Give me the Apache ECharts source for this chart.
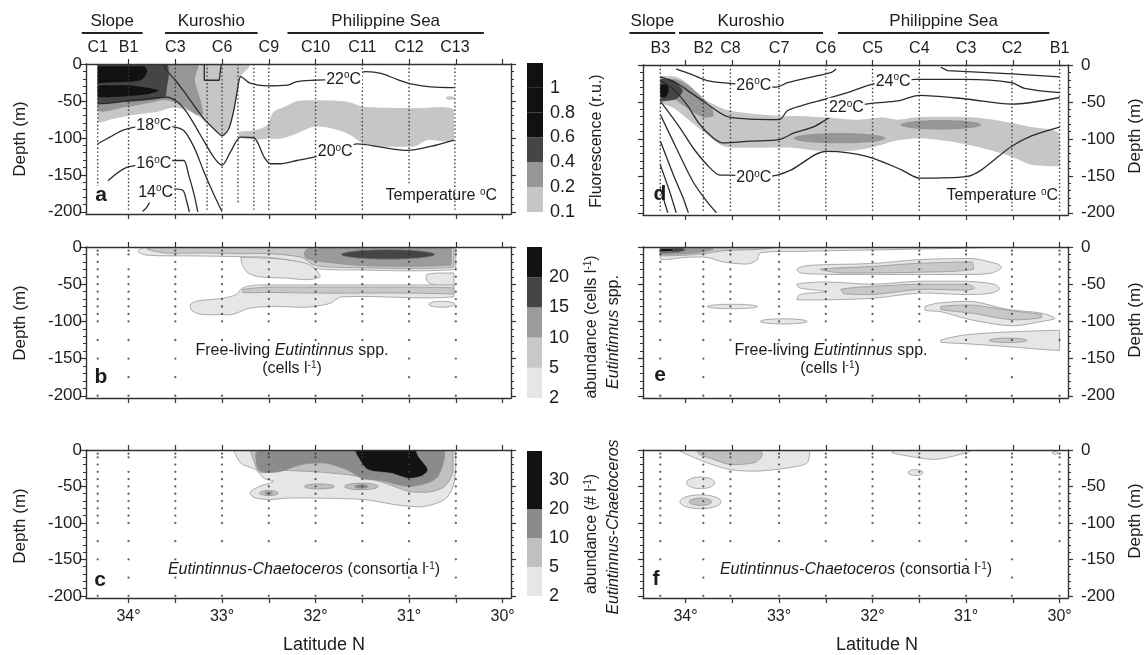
<!DOCTYPE html>
<html><head><meta charset="utf-8">
<script src="https://cdn.jsdelivr.net/npm/echarts@6/dist/echarts.min.js"></script>
<style>html,body{margin:0;padding:0;background:#fff}#c{width:1144px;height:655px}</style>
</head><body><div id="c"></div>
<script>
// ---------------- DATA ----------------
const latTicks = [30, 30.5, 31, 31.5, 32, 32.5, 33, 33.5, 34];
const latLabels = [30, 31, 32, 33, 34];
const depthTicks = [-200, -150, -100, -50, 0];
const depthMinor = [-190,-180,-170,-160,-140,-130,-120,-110,-90,-80,-70,-60,-40,-30,-20,-10];

const stationsLeftNames = ['C1','B1','C3','C6','C9','C10','C11','C12','C13'];
const stationsLeftLat = [34.33, 34.0, 33.5, 33.0, 32.5, 32.0, 31.5, 31.0, 30.51];
const stationsRightNames = ['B3','B2','C8','C7','C6','C5','C4','C3','C2','B1'];
const stationsRightLat = [34.27, 33.81, 33.52, 33.0, 32.5, 32.0, 31.5, 31.0, 30.51, 30.0];

const regionsLeft = [['Slope',34.50,33.85],['Kuroshio',33.61,32.62],['Philippine Sea',32.30,30.20]];
const regionsRight = [['Slope',34.60,34.11],['Kuroshio',34.07,32.53],['Philippine Sea',32.37,30.11]];

const fluoLevels = ['0.1','0.2','0.4','0.6','0.8','1'];
const fluoColors = ['#c6c6c6','#969696','#454545','#111111','#111111','#111111'];
const eutLevels = ['2','5','10','15','20'];
const eutColors = ['#e6e6e6','#c8c8c8','#9b9b9b','#454545','#121212'];
const consLevels = ['2','5','10','20','30'];
const consColors = ['#e6e6e6','#c0c0c0','#8b8b8b','#121212','#121212'];

// CTD profiles (lat, deepest depth)
const ctdA = [[34.33,-165],[34.0,-200],[33.5,-200],[33.16,-200],[33.0,-200],[32.83,-190],[32.66,-200],[32.5,-200],[32.0,-200],[31.5,-200],[31.0,-162],[30.51,-200]];
const ctdD = [[34.27,-200],[33.81,-200],[33.52,-200],[33.0,-200],[32.5,-200],[32.0,-200],[31.5,-200],[31.0,-200],[30.51,-200],[30.0,-200]];

// bottle sampling depths (m)
const bottlesLeft = [
 [34.33,[5,10,20,30,40,50,60,70,80,90,100,125,150,200]],
 [34.0,[5,10,30,40,50,60,70,80,90,100,125,150,175,200]],
 [33.5,[5,10,20,30,40,50,60,70,80,90,100,125,150,175,200]],
 [33.0,[5,10,20,30,40,50,60,70,80,90,100,125,200]],
 [32.5,[5,10,20,30,40,50,60,70,80,90,100,125,200]],
 [32.0,[5,10,20,30,40,50,60,70,80,90,100,125,200]],
 [31.5,[5,10,20,30,40,50,60,70,80,90,100,125,200]],
 [31.0,[5,10,20,30,40,50,60,70,80,90,100,125,150,175,200]],
 [30.5,[5,10,20,30,40,50,60,70,80,90,100,125,150,175,200]]
];
const bottlesRight = [
 [34.27,[5,10,20,30,40,50,60,70,80,90,100,125,150,200]],
 [33.81,[5,10,20,30,40,50,60,70,80,90,100,125,150,175,200]],
 [33.52,[5,10,20,30,40,50,60,70,80,90,100,125,200]],
 [33.0,[5,10,20,30,40,50,60,70,80,90,100,125,200]],
 [32.5,[5,10,20,30,40,50,60,70,80,90,100,125,200]],
 [32.0,[5,10,20,30,40,50,60,70,80,90,100,125,200]],
 [31.5,[5,10,20,30,40,50,60,70,80,90,100,125,200]],
 [31.0,[5,10,20,30,40,50,60,70,80,90,100,125,150,200]],
 [30.51,[5,10,20,30,40,50,60,70,80,90,100,125,150,175,200]],
 [30.0,[5,10,20,30,40,50,60,70,80,90,100,125,200]]
];

// contour regions: level index, polygon [lat, depth] or ellipse [lat, depth, halfLat, halfDepth]
const fluoA = [
 {level:0, pts:[[34.33,0],[32.70,0],[32.71,-4],[32.80,-17],[32.84,-44],[32.91,-81],[33.0,-97],[33.05,-92],[33.16,-81],[33.27,-69],[33.375,-63],[33.52,-59],[33.70,-65],[33.95,-69],[34.16,-74],[34.33,-77]]},
 {level:0, pts:[[32.82,-92],[32.66,-90],[32.52,-83],[32.45,-65],[32.30,-56],[32.2,-50],[32.02,-49],[31.66,-51],[31.48,-58],[30.95,-60],[30.52,-62],[30.52,-103],[30.8,-103],[30.95,-112],[31.3,-112],[31.48,-108],[31.66,-94],[31.84,-87],[32.02,-85],[32.2,-94],[32.375,-101],[32.52,-101],[32.66,-102],[32.82,-99]]},
 {level:0, ell:[30.56,-46,0.05,2.5]},
 {level:1, pts:[[34.33,0],[33.27,0],[33.29,-22],[33.23,-49],[33.20,-67],[33.27,-69],[33.375,-60],[33.52,-51],[33.625,-49],[33.80,-53],[34.02,-58],[34.33,-62]]},
 {level:2, pts:[[34.33,0],[33.59,0],[33.57,-15],[33.59,-31],[33.61,-44],[33.80,-49],[34.02,-51],[34.33,-53.5]]},
 {level:3, pts:[[34.33,-3],[33.84,-3],[33.80,-10],[33.875,-22],[34.2,-25],[34.33,-26]]},
 {level:3, pts:[[34.33,-29],[34.02,-28.6],[33.80,-32],[33.68,-36],[33.80,-41],[34.02,-43.5],[34.33,-45]]}
];
const fluoD = [
 {level:0, pts:[[34.27,-14.5],[34.10,-16],[33.95,-28],[33.85,-42],[33.70,-53],[33.52,-62],[33.0,-69],[32.77,-69],[32.5,-71],[32.15,-74],[31.90,-71],[31.73,-74],[31.5,-70.5],[31.0,-70.5],[30.66,-75],[30.30,-84],[30.0,-93],[30.0,-137],[30.30,-135],[30.51,-124],[30.84,-112],[31.2,-103],[31.5,-99],[31.73,-102],[31.90,-108],[32.15,-115],[32.5,-117],[32.87,-112],[33.31,-112],[33.59,-110],[33.77,-94],[33.95,-76],[34.13,-58],[34.27,-49]]},
 {level:1, pts:[[34.27,-18],[34.06,-21],[33.88,-37],[33.72,-58],[33.70,-69],[33.81,-71],[33.99,-58],[34.17,-42],[34.27,-37]]},
 {level:1, ell:[32.355,-99,0.49,7]},
 {level:1, ell:[31.27,-81,0.43,6.5]},
 {level:2, pts:[[34.27,-19],[34.13,-21],[34.03,-35],[34.10,-46],[34.27,-49]]},
 {level:3, pts:[[34.27,-28],[34.2,-26],[34.18,-35],[34.22,-44],[34.27,-42]]}
];
const eutB = [
 {level:0, pts:[[33.90,-6],[33.82,0],[30.50,0],[30.50,-30],[31.0,-32],[31.5,-31],[32.0,-29],[32.2,-20],[32.5,-14],[32.8,-13],[33.3,-12],[33.8,-11]]},
 {level:0, pts:[[32.80,-14],[32.78,-25],[32.72,-35],[32.6,-40],[32.3,-42],[32.1,-44],[31.95,-40],[32.0,-30],[32.1,-22],[32.4,-16]]},
 {level:0, pts:[[30.82,-38],[30.7,-35],[30.52,-35],[30.52,-53],[30.7,-52],[30.8,-47]]},
 {level:0, pts:[[33.34,-78],[33.28,-73],[33.0,-69],[32.85,-64],[32.78,-55],[32.6,-51],[30.52,-51],[30.52,-67],[31.72,-67],[31.85,-76],[32.1,-81],[32.4,-80],[32.7,-82],[32.9,-91],[33.2,-91],[33.32,-86]]},
 {level:0, ell:[30.65,-77,0.14,4]},
 {level:1, pts:[[33.80,-3],[33.75,0],[30.52,0],[30.52,-27],[31.0,-29],[31.5,-28],[32.0,-25],[32.15,-14],[32.5,-9],[32.8,-9],[33.2,-8],[33.6,-8]]},
 {level:1, pts:[[32.78,-57],[32.5,-54],[32.0,-54],[31.0,-54],[30.52,-55],[30.52,-63],[31.0,-62],[32.0,-62],[32.5,-61],[32.78,-61]]},
 {level:2, pts:[[32.12,-8],[32.05,0],[30.55,0],[30.55,-24],[31.0,-26],[31.5,-25],[31.9,-20],[32.1,-15]]},
 {level:3, ell:[31.225,-10,0.5,6.5]}
];
const consC = [
 {level:0, pts:[[32.875,0],[30.51,0],[30.5,-23],[30.53,-50],[30.62,-68],[30.87,-78],[31.15,-75],[31.475,-68],[32.01,-66],[32.3,-66],[32.5,-68],[32.66,-65],[32.70,-58],[32.6,-50],[32.45,-43],[32.55,-39],[32.64,-27],[32.80,-18]]},
 {level:1, pts:[[32.70,0],[30.53,0],[30.53,-30],[30.62,-50],[30.80,-58],[31.0,-57],[31.2,-48],[31.4,-40],[31.65,-34],[32.0,-30],[32.37,-28],[32.6,-30],[32.66,-15]]},
 {level:1, ell:[31.96,-50,0.16,3.5]},
 {level:1, ell:[31.51,-50,0.18,4.5]},
 {level:1, ell:[32.50,-59,0.10,3.5]},
 {level:2, pts:[[32.64,-5],[32.58,0],[30.62,0],[30.62,-10],[30.69,-36],[30.80,-45],[31.01,-50],[31.30,-42],[31.5,-39],[31.65,-28],[31.9,-18],[32.15,-20],[32.4,-30],[32.6,-28]]},
 {level:2, ell:[31.51,-50,0.07,2.5]},
 {level:2, ell:[32.50,-59,0.04,1.5]},
 {level:4, pts:[[31.58,0],[30.94,0],[30.90,-9],[30.80,-27],[30.87,-36],[31.01,-39],[31.19,-32],[31.44,-27],[31.55,-9]]}
];
const eutE = [
 {level:0, pts:[[34.27,0],[30.70,0],[31.0,-1.5],[32.0,-4],[32.8,-6],[33.2,-8],[33.24,-18],[33.35,-23],[33.6,-20],[33.77,-14],[34.0,-14],[34.27,-16]]},
 {level:0, pts:[[32.81,-30],[32.70,-25],[31.98,-22],[31.52,-17],[30.94,-15.5],[30.66,-23],[30.62,-28],[30.73,-35],[30.94,-37],[31.62,-37],[32.34,-37],[32.77,-35]]},
 {level:0, pts:[[32.81,-50],[32.5,-47],[32.0,-50],[31.5,-46],[31.0,-46],[30.7,-50],[30.64,-56],[30.73,-62],[31.0,-64],[31.5,-62],[32.0,-69],[32.5,-71],[32.81,-71],[32.78,-64],[32.5,-60],[32.78,-55]]},
 {level:0, ell:[33.5,-80,0.27,3]},
 {level:0, ell:[32.95,-100,0.25,3.5]},
 {level:0, pts:[[31.44,-80],[31.27,-75],[30.94,-73],[30.55,-84],[30.19,-89],[30.05,-96],[30.19,-100],[30.5,-106],[30.94,-98],[31.27,-87],[31.44,-85]]},
 {level:0, pts:[[31.27,-125],[31.0,-118],[30.5,-114],[30.0,-112],[30.0,-139],[30.5,-134.5],[31.0,-130],[31.27,-128]]},
 {level:1, pts:[[34.27,0],[33.0,0],[33.2,-3],[33.6,-5],[33.8,-9],[34.0,-11],[34.27,-12]]},
 {level:1, pts:[[32.56,-30],[31.98,-26],[31.52,-22],[30.94,-20],[30.92,-30],[31.52,-34],[32.34,-35]]},
 {level:1, pts:[[32.34,-57],[32.0,-53],[31.5,-50],[31.0,-50],[30.91,-55],[31.0,-58],[31.5,-57],[32.0,-64],[32.3,-63]]},
 {level:1, pts:[[31.27,-80],[30.94,-78],[30.5,-86],[30.19,-91],[30.19,-95],[30.5,-98],[30.94,-89],[31.27,-84]]},
 {level:1, ell:[30.55,-125.5,0.2,3]},
 {level:2, pts:[[34.27,0],[33.80,0],[33.7,-3],[33.9,-8],[34.27,-10]]},
 {level:3, pts:[[34.27,-1],[34.05,-1],[34.0,-4],[34.08,-7],[34.27,-8]]},
 {level:4, pts:[[34.27,-2],[34.14,-2],[34.12,-4],[34.16,-6],[34.27,-6]]}
];
const consF = [
 {level:0, pts:[[34.08,0],[32.67,0],[32.70,-17.5],[32.88,-24],[33.24,-29],[33.52,-27],[33.77,-17.5],[33.95,-8]]},
 {level:0, pts:[[31.79,0],[30.93,0],[31.06,-6],[31.34,-13],[31.63,-8],[31.79,-3.7]]},
 {level:0, ell:[33.84,-45,0.15,8]},
 {level:0, ell:[33.84,-71,0.22,9.5]},
 {level:0, ell:[31.54,-31,0.08,4]},
 {level:0, ell:[30.05,-4,0.03,2]},
 {level:1, pts:[[33.88,0],[33.20,0],[33.18,-8],[33.27,-17.5],[33.52,-20],[33.70,-13],[33.85,-6]]},
 {level:1, ell:[33.84,-71,0.12,5]}
];

// isotherms (°C) with label anchor
const isoA = [
 {t:22, pts:[[33.625,-1],[33.59,-9],[33.5,-22],[33.39,-40],[33.29,-58],[33.18,-76],[33.07,-90],[33.0,-97],[32.93,-88],[32.875,-63],[32.83,-31],[32.80,-17],[32.70,-26],[32.52,-29.5],[32.30,-28.6],[32.2,-24],[32.02,-22],[31.70,-20],[31.46,-10.4],[31.30,-12.7],[31.125,-21],[30.95,-27.7],[30.77,-31],[30.52,-32]], lab:[31.70,-21]},
 {t:20, pts:[[34.33,-54],[34.2,-53],[34.02,-50],[33.80,-47],[33.59,-45],[33.48,-51],[33.39,-63],[33.30,-81],[33.20,-103],[33.09,-126],[33.0,-137],[32.91,-119],[32.80,-99],[32.66,-100],[32.55,-126],[32.48,-135],[32.375,-135],[32.2,-130.6],[32.02,-126],[31.79,-119],[31.55,-108],[31.30,-112.5],[31.02,-117],[30.77,-111.6],[30.52,-103]], lab:[31.79,-119]},
 {t:18, pts:[[34.33,-108],[34.2,-99],[34.05,-89],[33.77,-83],[33.52,-85],[33.41,-90],[33.30,-112.5],[33.2,-144],[33.09,-176],[33.0,-200]], lab:[33.73,-83]},
 {t:16, pts:[[34.22,-158],[34.02,-140],[33.73,-135],[33.52,-130.6],[33.41,-130.6],[33.36,-149],[33.30,-176],[33.26,-200]], lab:[33.73,-135]},
 {t:14, pts:[[33.85,-199.5],[33.80,-193],[33.71,-174],[33.52,-169],[33.42,-171],[33.38,-185],[33.35,-200]], lab:[33.71,-174]},
 {t:24, pts:[[33.19,-1],[33.19,-22],[33.03,-22],[33.01,-1]]}
];
const isoD = [
 {t:26, pts:[[34.10,-5.5],[33.95,-12],[33.77,-21],[33.52,-25],[33.27,-28],[33.03,-30],[32.91,-24],[32.59,-14.5],[32.44,-10],[32.39,-5.5]], lab:[33.27,-28]},
 {t:24, pts:[[34.27,-16],[34.10,-24],[33.95,-37],[33.81,-49],[33.52,-71],[33.0,-74],[32.91,-62],[32.77,-55.5],[32.5,-46],[32.26,-37],[32.0,-26],[31.78,-22],[31.54,-19.5],[31.0,-19.5],[30.51,-24],[30.375,-31.5],[30.0,-37.5]], lab:[31.78,-22]},
 {t:25, pts:[[31.27,-3],[31.2,-7.7],[30.51,-12],[30.0,-16]]},
 {t:22, pts:[[34.27,-21],[34.13,-33],[33.99,-53],[33.85,-80],[33.70,-99],[33.59,-105.5],[33.31,-103],[33.0,-101],[32.84,-92],[32.62,-83],[32.28,-58],[32.01,-52],[31.73,-48.6],[31.5,-41],[31.0,-46],[30.51,-53],[30.0,-44]], lab:[32.28,-58]},
 {t:20, pts:[[34.27,-49],[34.06,-85],[33.92,-112],[33.77,-135],[33.63,-149],[33.52,-149],[33.27,-153],[33.02,-149],[32.87,-142],[32.5,-117],[32.26,-119],[32.0,-126],[31.69,-142],[31.5,-153],[31.0,-151],[30.51,-110],[30.30,-96],[30.0,-84]], lab:[33.27,-153]},
 {t:18, pts:[[34.27,-67],[34.10,-112],[33.92,-158],[33.77,-185],[33.67,-200]]},
 {t:16, pts:[[34.27,-103],[34.13,-149],[34.025,-180],[33.97,-200]]},
 {t:14, pts:[[34.27,-135],[34.17,-171],[34.10,-200]]},
 {t:12, pts:[[34.27,-167],[34.19,-200]]}
];

// ---------------- CHART ----------------
const FONT = '"Liberation Sans", Arial, Helvetica, sans-serif';
const INK = '#1c1c1c';
const AX = '#333333';
const LAT_MIN = 29.91, LAT_MAX = 34.455, DEPTH_MIN = -203;

function rich(fs){
  return {
    n:{fontSize:fs, fontFamily:FONT, fill:INK, color:INK, lineHeight:fs+2},
    i:{fontSize:fs, fontFamily:FONT, fill:INK, color:INK, fontStyle:'italic', lineHeight:fs+2},
    s:{fontSize:Math.round(fs*0.62), fontFamily:FONT, fill:INK, color:INK, verticalAlign:'top', lineHeight:Math.round(fs*0.62)}
  };
}
function nearestName(lats, names, v){
  let bi=0, bd=1e9; lats.forEach((l,i)=>{const d=Math.abs(l-v); if(d<bd){bd=d;bi=i;}}); return names[bi];
}

const PANELS = [
 {left:86, top:64, h:150, side:'left', latLab:false, st:[stationsLeftLat, stationsLeftNames], shapes:fluoA, colors:fluoColors, outline:false, iso:isoA, ctd:ctdA},
 {left:86, top:247, h:151, side:'left', latLab:false, shapes:eutB, colors:eutColors, outline:true, bottles:bottlesLeft},
 {left:86, top:450, h:148, side:'left', latLab:true, shapes:consC, colors:consColors, outline:true, bottles:bottlesLeft},
 {left:643, top:65, h:150, side:'right', latLab:false, st:[stationsRightLat, stationsRightNames], shapes:fluoD, colors:fluoColors, outline:false, iso:isoD, ctd:ctdD},
 {left:643, top:247, h:151, side:'right', latLab:false, shapes:eutE, colors:eutColors, outline:true, bottles:bottlesRight},
 {left:643, top:450, h:148, side:'right', latLab:true, shapes:consF, colors:consColors, outline:true, bottles:bottlesRight}
];
const CBARS = [
 {left:527, top:63, w:16, h:149, colors:fluoColors, levels:fluoLevels},
 {left:527, top:247, w:15, h:151, colors:eutColors, levels:eutLevels},
 {left:527, top:451, w:15, h:145, colors:consColors, levels:consLevels}
];

const grids=[], xAxes=[], yAxes=[], series=[];

PANELS.forEach((p, i) => {
  grids.push({left:p.left, top:p.top, width:425, height:p.h});
  const xBase = {type:'value', gridIndex:i, min:LAT_MIN, max:LAT_MAX, inverse:true, z:6,
    axisLine:{show:true, onZero:false, lineStyle:{color:AX, width:1.4}},
    axisTick:{show:true, length:5, customValues:latTicks, lineStyle:{color:AX, width:1.2}},
    splitLine:{show:false}};
  xAxes.push(Object.assign({}, xBase, {position:'bottom',
    axisLabel:{show:p.latLab, customValues:latLabels, formatter:v=>v+'°', margin:11, fontSize:16, color:INK, fontFamily:FONT}}));
  xAxes.push(Object.assign({}, xBase, {position:'top',
    axisLabel: p.st ? {show:true, customValues:p.st[0], formatter:v=>nearestName(p.st[0], p.st[1], v), margin:8, fontSize:16, color:INK, fontFamily:FONT}
                    : {show:false}}));
  ['left','right'].forEach(pos => {
    yAxes.push({type:'value', gridIndex:i, position:pos, min:DEPTH_MIN, max:0, z:6,
      axisLine:{show:true, onZero:false, lineStyle:{color:AX, width:1.4}},
      axisTick:{show:true, length:5, customValues:depthTicks, lineStyle:{color:AX, width:1.2}},
      axisLabel:{show:p.side===pos, customValues:depthTicks, margin: pos==='left'?4:13, fontSize:17, color:INK, fontFamily:FONT},
      splitLine:{show:false}});
    yAxes.push({type:'value', gridIndex:i, position:pos, min:DEPTH_MIN, max:0, z:6,
      axisLine:{show:false, onZero:false},
      axisTick:{show:true, length:3, customValues:depthMinor, lineStyle:{color:AX, width:1}},
      axisLabel:{show:false}, splitLine:{show:false}});
  });

  // filled contour regions
  const list = p.shapes.map((s, k)=>({s, k})).sort((a,b)=>a.s.level-b.s.level || a.k-b.k).map(o=>o.s);
  series.push({type:'custom', xAxisIndex:2*i, yAxisIndex:4*i, silent:true, clip:true, z:1,
    data: list.map((s,k)=>{ const a = s.pts ? s.pts[0] : s.ell; return [a[0], a[1], k]; }),
    renderItem:(params, api)=>{
      const k = api.value(2); const s = list[k];
      const style = {fill:p.colors[s.level], stroke: p.outline ? '#8c8c8c' : null, lineWidth: p.outline ? 0.7 : 0};
      if (s.ell) {
        const c = api.coord([s.ell[0], s.ell[1]]); const sz = api.size([s.ell[2], s.ell[3]]);
        return {type:'ellipse', z2:k, shape:{cx:c[0], cy:c[1], rx:sz[0], ry:sz[1]}, style};
      }
      const pix = s.pts.map(q=>api.coord(q));
      return {type:'polygon', z2:k, shape:{points:pix, smooth:0.3, smoothConstraint:[pix[0].slice(), pix[0].slice()]}, style};
    }});

  // CTD dotted profiles
  if (p.ctd) {
    series.push({type:'custom', xAxisIndex:2*i, yAxisIndex:4*i, silent:true, clip:true, z:4,
      data: p.ctd.map(c=>[c[0], c[1]]),
      renderItem:(params, api)=>{
        const a = api.coord([api.value(0), 0]); const b = api.coord([api.value(0), api.value(1)]);
        return {type:'line', shape:{x1:a[0], y1:a[1], x2:b[0], y2:b[1]}, style:{stroke:'#3a3a3a', lineWidth:1.4, lineDash:[1.4,2.4]}};
      }});
  }
  // bottle depths
  if (p.bottles) {
    const pts = [];
    p.bottles.forEach(b => b[1].forEach(d => pts.push([b[0], -d])));
    series.push({type:'scatter', xAxisIndex:2*i, yAxisIndex:4*i, silent:true, z:4, symbolSize:2.3,
      itemStyle:{color:'#3a3a3a'}, data:pts});
  }
  // isotherms
  if (p.iso) {
    p.iso.forEach(iso => series.push({type:'line', xAxisIndex:2*i, yAxisIndex:4*i, data:iso.pts, symbol:'none',
      smooth: iso.pts.length > 4 ? 0.3 : false, silent:true, z:3, lineStyle:{color:'#2b2b2b', width:1.3}}));
    const labs = p.iso.filter(o=>o.lab);
    series.push({type:'custom', xAxisIndex:2*i, yAxisIndex:4*i, silent:true, z:5,
      data: labs.map(o=>[o.lab[0], o.lab[1], o.t]),
      renderItem:(params, api)=>{
        const c = api.coord([api.value(0), api.value(1)]);
        return {type:'text', x:c[0], y:c[1], style:{text:'{n|'+api.value(2)+'}{s|o}{n|C}', rich:rich(16),
          align:'center', verticalAlign:'middle', backgroundColor:'#fff', padding:[1,1]}};
      }});
  }
});

CBARS.forEach((cb, k) => {
  const gi = 6 + k;
  grids.push({left:cb.left, top:cb.top, width:cb.w, height:cb.h});
  xAxes.push({type:'value', gridIndex:gi, min:0, max:1, show:false});
  yAxes.push({type:'value', gridIndex:gi, position:'right', min:0, max:cb.colors.length,
    axisLine:{show:false}, axisTick:{show:false}, splitLine:{show:false},
    axisLabel:{show:true, customValues:cb.levels.map((_,j)=>j), formatter:v=>cb.levels[v], margin:7, fontSize:18, color:INK, fontFamily:FONT}});
  series.push({type:'custom', xAxisIndex:12+k, yAxisIndex:24+k, silent:true,
    data: cb.colors.map((c,j)=>[0.5, j+0.5, j]),
    renderItem:(params, api)=>{
      const j = api.value(2); const p0 = api.coord([0, j]); const p1 = api.coord([1, j+1]);
      return {type:'rect', shape:{x:p0[0], y:p1[1], width:p1[0]-p0[0], height:p0[1]-p1[1]}, style:{fill:cb.colors[j]}};
    }});
});

const chart = echarts.init(document.getElementById('c'), null, {renderer:'canvas'});
chart.setOption({animation:false, backgroundColor:'#fff', grid:grids, xAxis:xAxes, yAxis:yAxes, series:series});

// ---------------- ANNOTATIONS ----------------
function T(x, y, text, o){
  o = o || {};
  return {type:'text', x:x, y:y, rotation:o.rot||0, silent:true, z:20,
    style:{text:text, fill:INK, fontSize:o.fs||16, fontFamily:FONT, fontWeight:o.fw||'normal',
      align:o.align||'center', verticalAlign:'middle', rich:rich(o.fs||16)}};
}
const G = [];
[[1, regionsLeft],[7, regionsRight]].forEach(([ax, regs]) => {
  regs.forEach(r => {
    const x1 = chart.convertToPixel({xAxisIndex:ax}, r[1]);
    const x2 = chart.convertToPixel({xAxisIndex:ax}, r[2]);
    G.push({type:'line', silent:true, z:20, shape:{x1:x1, y1:33, x2:x2, y2:33}, style:{stroke:'#222', lineWidth:1.8}});
    G.push(T((x1+x2)/2, 21, '{n|'+r[0]+'}', {fs:17}));
  });
});
const R90 = Math.PI/2;
[['a',101,195],['b',101,377],['c',100,580],['d',660,194],['e',660,375],['f',656,579]].forEach(l =>
  G.push({type:'text', x:l[1], y:l[2], silent:true, z:20, style:{text:l[0], fill:INK, fontSize:21, fontWeight:'bold', fontFamily:FONT, align:'center', verticalAlign:'middle'}}));
G.push(T(497,196,'{n|Temperature }{s|o}{n|C}', {align:'right'}));
G.push(T(1058,196,'{n|Temperature }{s|o}{n|C}', {align:'right'}));
G.push(T(292,351,'{n|Free-living }{i|Eutintinnus}{n| spp.}'));
G.push(T(292,369,'{n|(cells l}{s|-1}{n|)}'));
G.push(T(831,351,'{n|Free-living }{i|Eutintinnus}{n| spp.}'));
G.push(T(830,369,'{n|(cells l}{s|-1}{n|)}'));
G.push(T(304,570,'{i|Eutintinnus-Chaetoceros}{n| (consortia l}{s|-1}{n|)}'));
G.push(T(856,570,'{i|Eutintinnus-Chaetoceros}{n| (consortia l}{s|-1}{n|)}'));
G.push(T(597,141,'{n|Fluorescence (r.u.)}', {rot:R90}));
G.push(T(592,327,'{n|abundance (cells l}{s|-1}{n|)}', {rot:R90}));
G.push(T(614,332,'{i|Eutintinnus}{n| spp.}', {rot:R90}));
G.push(T(592,534,'{n|abundance (# l}{s|-1}{n|)}', {rot:R90}));
G.push(T(614,527,'{i|Eutintinnus-Chaetoceros}', {rot:R90}));
[[20,139],[20,323],[20,526],[1135,136],[1135,320],[1135,521]].forEach(p =>
  G.push(T(p[0], p[1], '{n|Depth (m)}', {rot:R90, fs:17})));
G.push(T(324,645,'{n|Latitude N}', {fs:18}));
G.push(T(877,645,'{n|Latitude N}', {fs:18}));
chart.setOption({graphic:G});
</script></body></html>
